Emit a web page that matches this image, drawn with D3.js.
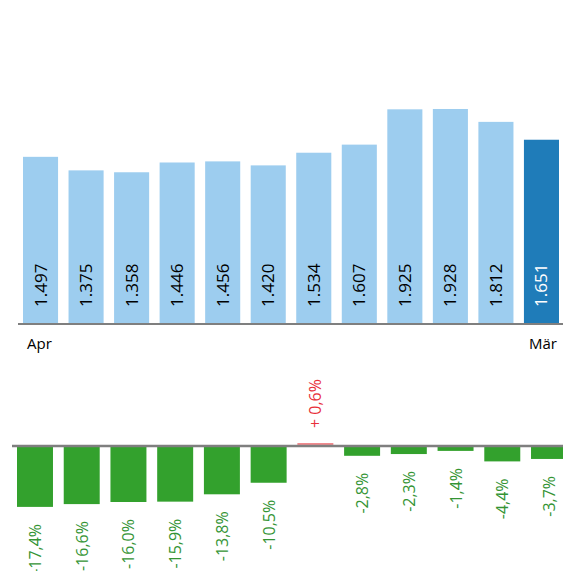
<!DOCTYPE html>
<html>
<head>
<meta charset="utf-8">
<script src="https://cdn.jsdelivr.net/npm/d3@7"></script>
<style>
  body { margin: 0; background: #fff; }
  svg { display: block; font-family: "Open Sans", sans-serif; }
</style>
</head>
<body>
<div id="chart"></div>
<script>
const months = ["Apr", "Mai", "Jun", "Jul", "Aug", "Sep", "Okt", "Nov", "Dez", "Jan", "Feb", "Mär"];
const counts = [1497, 1375, 1358, 1446, 1456, 1420, 1534, 1607, 1925, 1928, 1812, 1651];
const changes = [-17.4, -16.6, -16.0, -15.9, -13.8, -10.5, 0.6, -2.8, -2.3, -1.4, -4.4, -3.7];
const shownMonths = ["Apr", "Mär"];

const width = 563, height = 571;

const svg = d3.select("#chart")
    .append("svg")
    .attr("width", width)
    .attr("height", height);

const fmtCount = d => d3.format(",")(d).replace(/,/g, ".");
const fmtPct = d => (d > 0 ? "+ " : "") + d.toFixed(1).replace(".", ",") + "%";

// top chart: absolute counts
const xTop = d3.scaleBand().domain(months).range([23, 559]).paddingInner(0.23).paddingOuter(0);
const yTop = d3.scaleLinear().domain([0, 2000]).range([323, 101]);

svg.append("g")
    .selectAll("rect")
    .data(counts)
    .enter().append("rect")
    .attr("x", (d, i) => xTop(months[i]))
    .attr("y", d => yTop(d))
    .attr("width", xTop.bandwidth())
    .attr("height", d => yTop(0) - yTop(d))
    .style("fill", (d, i) => i === counts.length - 1 ? "#1f7cb9" : "#9dcdef");

svg.append("g")
    .selectAll("text")
    .data(counts)
    .enter().append("text")
    .attr("transform", (d, i) => `translate(${xTop(months[i]) + xTop.bandwidth() / 2 + 6},${yTop(0) - 16}) rotate(-90)`)
    .attr("text-anchor", "start")
    .style("font-size", "17px")
    .style("fill", (d, i) => i === counts.length - 1 ? "#fff" : "#000")
    .text(fmtCount);

svg.append("line")
    .attr("x1", 18).attr("x2", width)
    .attr("y1", yTop(0) + 1).attr("y2", yTop(0) + 1)
    .style("stroke", "#7f7f7f")
    .style("stroke-width", 2);

svg.append("g")
    .selectAll("text")
    .data(shownMonths)
    .enter().append("text")
    .attr("x", (d, i) => i === 0 ? xTop(d) + 4 : xTop(d) + xTop.bandwidth() - 2)
    .attr("y", 349)
    .attr("text-anchor", (d, i) => i === 0 ? "start" : "end")
    .style("font-size", "15px")
    .style("fill", "#000")
    .text(d => d);

// bottom chart: change vs previous year
const xBot = d3.scaleBand().domain(months).range([17, 567]).paddingInner(0.23).paddingOuter(0);
const yBot = d3.scaleLinear().domain([-20, 0]).range([446 + 70, 446]);

svg.append("g")
    .selectAll("rect")
    .data(changes)
    .enter().append("rect")
    .attr("x", (d, i) => xBot(months[i]))
    .attr("y", d => d < 0 ? yBot(0) : yBot(0) - 3)
    .attr("width", xBot.bandwidth())
    .attr("height", d => d < 0 ? yBot(d) - yBot(0) : 2)
    .style("fill", d => d < 0 ? "#33a12d" : "#f08a8e");

svg.append("line")
    .attr("x1", 12).attr("x2", width)
    .attr("y1", yBot(0)).attr("y2", yBot(0))
    .style("stroke", "#7f7f7f")
    .style("stroke-width", 2.5);

svg.append("g")
    .selectAll("text")
    .data(changes)
    .enter().append("text")
    .attr("transform", (d, i) => {
        const cx = xBot(months[i]) + xBot.bandwidth() / 2 + 6;
        const cy = d < 0 ? yBot(d) + 17 : yBot(0) - 18;
        return `translate(${cx},${cy}) rotate(-90)`;
    })
    .attr("text-anchor", d => d < 0 ? "end" : "start")
    .style("font-size", "16px")
    .style("fill", d => d < 0 ? "#349434" : "#e8303a")
    .text(fmtPct);
</script>
</body>
</html>
